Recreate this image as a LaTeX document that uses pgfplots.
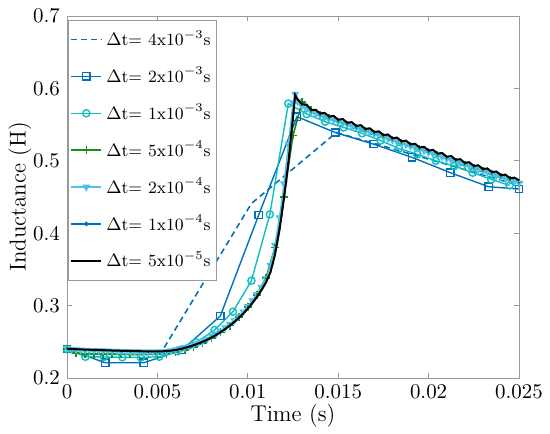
\documentclass[border=0pt]{standalone}
\usepackage{pgfplots}
\pgfplotsset{compat=1.18}
\usepackage{pgfplotstable}

\definecolor{cBlue}{rgb}{0.00,0.447,0.741}
\definecolor{cCyan}{rgb}{0.05,0.75,0.75}
\definecolor{cGreen}{rgb}{0.10,0.55,0.10}
\definecolor{cLight}{rgb}{0.30,0.75,0.93}

% fine steps: t, dt=5e-5 (black), dt=2e-4 (triangles)
\pgfplotstableread{
t L tri
0 0.2405 0.2410
0.00025 0.2400 0.2395
0.0005 0.2398 0.2390
0.00075 0.2395 0.2387
0.001 0.2392 0.2384
0.00125 0.2390 0.2382
0.0015 0.2388 0.2380
0.00175 0.2386 0.2378
0.002 0.2384 0.2376
0.00225 0.2382 0.2374
0.0025 0.2380 0.2372
0.00275 0.2378 0.2370
0.003 0.2376 0.2368
0.00325 0.2375 0.2367
0.0035 0.2373 0.2365
0.00375 0.2372 0.2364
0.004 0.2370 0.2362
0.00425 0.2369 0.2361
0.0045 0.2368 0.2360
0.00475 0.2367 0.2360
0.005 0.2367 0.2361
0.00525 0.2368 0.2363
0.0055 0.2372 0.2368
0.00575 0.2378 0.2376
0.006 0.2387 0.2391
0.00625 0.2399 0.2405
0.0065 0.2414 0.2421
0.00675 0.2432 0.2440
0.007 0.2452 0.2461
0.00725 0.2475 0.2485
0.0075 0.2500 0.2511
0.00775 0.2528 0.2541
0.008 0.2560 0.2574
0.00825 0.2595 0.2611
0.0085 0.2634 0.2651
0.00875 0.2676 0.2694
0.009 0.2722 0.2742
0.00925 0.2772 0.2794
0.0095 0.2828 0.2853
0.00975 0.2890 0.2917
0.01 0.2958 0.2988
0.01025 0.3034 0.3068
0.0105 0.3118 0.3155
0.01075 0.3210 0.3253
0.011 0.3318 0.3375
0.01125 0.3460 0.3556
0.0115 0.3700 0.3836
0.01175 0.4040 0.4216
0.012 0.4480 0.4684
0.01225 0.4990 0.5234
0.0125 0.5600 0.5800
0.01262 0.5910 0.5920
0.01275 0.5850 0.5820
0.013 0.5780 0.5755
0.01325 0.5775 0.5720
0.0135 0.5705 0.5680
0.01375 0.5705 0.5650
0.014 0.5653 0.5628
0.01425 0.5661 0.5606
0.0145 0.5610 0.5585
0.01475 0.5619 0.5564
0.015 0.5567 0.5542
0.01525 0.5576 0.5521
0.0155 0.5525 0.5500
0.01575 0.5533 0.5478
0.016 0.5482 0.5457
0.01625 0.5491 0.5436
0.0165 0.5440 0.5415
0.01675 0.5448 0.5393
0.017 0.5397 0.5372
0.01725 0.5406 0.5351
0.0175 0.5354 0.5329
0.01775 0.5363 0.5308
0.018 0.5312 0.5287
0.01825 0.5320 0.5265
0.0185 0.5269 0.5244
0.01875 0.5278 0.5223
0.019 0.5227 0.5202
0.01925 0.5235 0.5180
0.0195 0.5184 0.5159
0.01975 0.5193 0.5138
0.02 0.5141 0.5116
0.02025 0.5150 0.5095
0.0205 0.5099 0.5074
0.02075 0.5107 0.5052
0.021 0.5056 0.5031
0.02125 0.5065 0.5010
0.0215 0.5014 0.4989
0.02175 0.5022 0.4967
0.022 0.4971 0.4946
0.02225 0.4980 0.4925
0.0225 0.4928 0.4903
0.02275 0.4937 0.4882
0.023 0.4886 0.4861
0.02325 0.4894 0.4839
0.0235 0.4843 0.4818
0.02375 0.4852 0.4797
0.024 0.4801 0.4776
0.02425 0.4809 0.4754
0.0245 0.4758 0.4733
0.02475 0.4767 0.4712
0.025 0.4730 0.4695
}\finetab

\begin{document}
\begin{tikzpicture}
\begin{axis}[%
set layers,
font=\fontsize{10.5}{12}\selectfont,
width=226bp,
height=181bp,
scale only axis,
xmin=0, xmax=0.025,
ymin=0.2, ymax=0.7,
xtick={0,0.005,0.01,0.015,0.02,0.025},
xticklabels={0,0.005,0.01,0.015,0.02,0.025},
ytick={0.2,0.3,0.4,0.5,0.6,0.7},
yticklabels={0.2,0.3,0.4,0.5,0.6,0.7},
scaled x ticks=false,
axis line style={black!40},
tick style={black!40,line width=0.4pt},
major tick length=2.5bp,
xlabel={Time (s)},
ylabel={Inductance (H)},
label style={font=\fontsize{11.5}{13}\selectfont},
xlabel style={at={(axis description cs:0.5,-0.104)},anchor=center},
ylabel style={at={(axis description cs:-0.104,0.5)},anchor=center},
legend cell align=left,
legend image code/.code={\draw[mark repeat=2,mark phase=2,#1]
  plot coordinates {(0bp,0bp) (7.5bp,0bp) (15bp,0bp)};},
legend style={at={(0.002,0.989)},anchor=north west,draw=black!40,line width=0.4pt,
  font=\fontsize{8.6}{10.5}\selectfont,row sep=5.3bp,inner xsep=1bp,inner ysep=3bp},
]
\coordinate (sw) at (rel axis cs:0,0);
\coordinate (ne) at (rel axis cs:1,1);

\addplot [color=cBlue,densely dashed,line width=0.8pt]
  coordinates {(0,0.2405) (0.00524,0.2363) (0.0102,0.441) (0.0149,0.539) (0.0199,0.503) (0.025,0.466)};
\addlegendentry{$\Delta$t= 4x10$^{-3}$s}

\addplot [color=cBlue,line width=0.7pt,mark=square,mark size=1.8bp,mark options={solid}]
  coordinates {(0,0.2400) (0.00212,0.2210) (0.00424,0.2210) (0.00636,0.2387) (0.00848,0.2856)
  (0.0106,0.425) (0.01272,0.561) (0.01484,0.539) (0.01696,0.523) (0.01908,0.5048)
  (0.0212,0.4836) (0.02332,0.4642) (0.025,0.4610)};
\addlegendentry{$\Delta$t= 2x10$^{-3}$s}

\addplot [color=cCyan,line width=0.7pt,mark=o,mark size=1.8bp,mark options={solid}]
  coordinates {(0,0.2400) (0.00102,0.2294) (0.00204,0.2290) (0.00306,0.2286) (0.00408,0.2283)
  (0.0051,0.2294) (0.00612,0.2370) (0.00714,0.2490) (0.00816,0.2663) (0.00918,0.2916)
  (0.0102,0.3344) (0.01122,0.4260) (0.01224,0.5790) (0.01326,0.5646) (0.01428,0.5540)
  (0.0153,0.5460) (0.01632,0.5380) (0.01734,0.5280) (0.01836,0.5170) (0.01938,0.5090)
  (0.0204,0.5000) (0.02142,0.4928) (0.02244,0.4836) (0.02346,0.4744) (0.02448,0.4660)};
\addlegendentry{$\Delta$t= 1x10$^{-3}$s}

\addplot [color=cGreen,line width=0.8pt,mark=+,mark size=2bp,mark options={solid}]
  coordinates {(0,0.2400) (0.0005,0.2345) (0.001,0.2335) (0.0015,0.2332) (0.002,0.2330)
  (0.0025,0.2328) (0.003,0.2326) (0.0035,0.2325) (0.004,0.2324) (0.0045,0.2325)
  (0.005,0.2328) (0.0055,0.2338) (0.006,0.2357) (0.0065,0.2387) (0.007,0.2428)
  (0.0075,0.2482) (0.008,0.2550) (0.0085,0.2630) (0.009,0.2725) (0.0095,0.2840)
  (0.01,0.2980) (0.0105,0.3150) (0.011,0.3380) (0.0115,0.3800) (0.012,0.4500)
  (0.0125,0.5350) (0.013,0.5810) (0.0135,0.5700) (0.014,0.5630) (0.0145,0.5585)
  (0.015,0.5542) (0.0155,0.5500) (0.016,0.5457) (0.0165,0.5415) (0.017,0.5372)
  (0.0175,0.5329) (0.018,0.5287) (0.0185,0.5244) (0.019,0.5202) (0.0195,0.5159)
  (0.02,0.5116) (0.0205,0.5074) (0.021,0.5031) (0.0215,0.4989) (0.022,0.4946)
  (0.0225,0.4903) (0.023,0.4861) (0.0235,0.4818) (0.024,0.4776) (0.0245,0.4733)
  (0.025,0.4700)};
\addlegendentry{$\Delta$t= 5x10$^{-4}$s}

\addplot [color=cLight,line width=0.7pt,mark=triangle,mark size=1.6bp,mark options={solid,rotate=180}]
  table[x=t,y=tri] {\finetab};
\addlegendentry{$\Delta$t= 2x10$^{-4}$s}

\addplot [color=cBlue,line width=0.7pt,forget plot]
  table[x=t,y=L] {\finetab};
\addlegendimage{color=cBlue,line width=0.7pt,mark=*,mark size=0.8bp,mark options={solid}}
\addlegendentry{$\Delta$t= 1x10$^{-4}$s}

\addplot [color=black,line width=1.0pt,on layer=axis foreground]
  table[x=t,y=L] {\finetab};
\addlegendentry{$\Delta$t= 5x10$^{-5}$s}

\end{axis}
\pgfresetboundingbox
\path ([shift={(-33.5bp,-28bp)}]sw) rectangle ([shift={(15.5bp,8bp)}]ne);
\end{tikzpicture}
\end{document}
